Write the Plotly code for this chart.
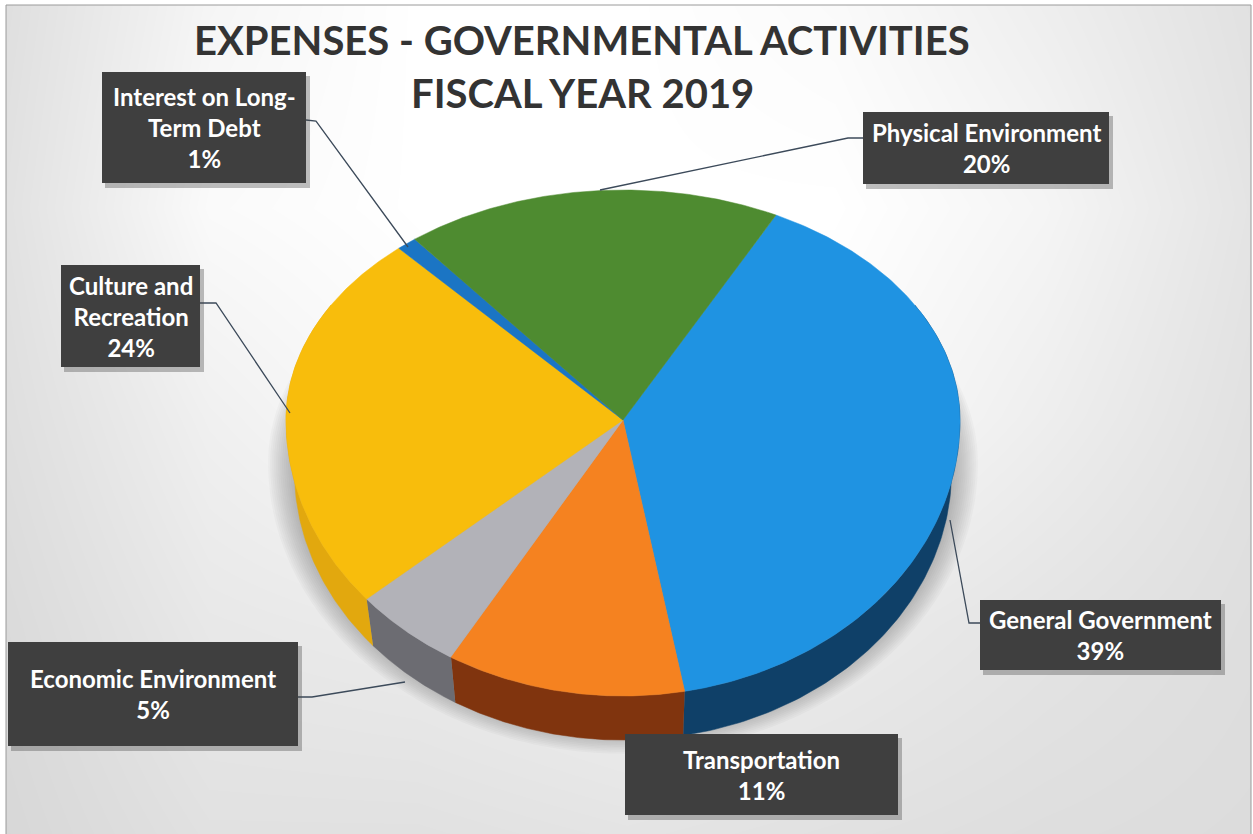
import numpy as np
import plotly.graph_objects as go

# --- data ---
categories = ["General Government", "Transportation", "Economic Environment",
              "Culture and Recreation", "Interest on Long-Term Debt", "Physical Environment"]
values = [39, 11, 5, 24, 1, 20]
top_colors = ["#1f93e2", "#f58220", "#b2b2b8", "#f8bd0c", "#1b75c4", "#4e8b30"]
side_colors = ["#0f4068", "#80340e", "#6c6c72", "#e2a80e", "#0f4068", "#2f5a1c"]
label_text = ["General Government<br>39%", "Transportation<br>11%",
              "Economic Environment<br>5%", "Culture and<br>Recreation<br>24%",
              "Interest on Long-<br>Term Debt<br>1%", "Physical Environment<br>20%"]
label_boxes = [(980, 600, 1221, 670), (625, 734, 898, 815), (8, 642, 298, 746),
               (61, 265, 200, 367), (102, 72, 306, 183), (863, 112, 1109, 184)]
leaders = [[(950, 520), (969, 623), (980, 623)],
           None,
           [(298, 697), (312, 697), (405, 682)],
           [(200, 303), (216, 303), (290, 413)],
           [(306, 120), (316, 121), (408, 247)],
           [(863, 138), (848, 138), (600, 190)]]
title_lines = ["EXPENSES - GOVERNMENTAL ACTIVITIES", "FISCAL YEAR 2019"]

bg_x = [0, 209, 418, 627, 835, 1044, 1253]
bg_y = [0, 208, 417, 625, 834]
bg_gray = [[222, 245, 255, 255, 250, 238, 225],
           [225, 250, 255, 255, 255, 245, 228],
           [222, 240, 250, 255, 250, 238, 225],
           [218, 232, 235, 240, 235, 228, 222],
           [215, 225, 225, 228, 225, 222, 220]]

# --- geometry of the tilted pie ---
CX, CY = 623, 420
RX, RY_TOP, RY_BOTTOM = 337, 230, 276
DEPTH, BOTTOM_SCALE = 51, 0.975
START = 27.0
PERSPECTIVE = 7.0


def rim(theta, scale=1.0, dy=0.0):
    t = np.radians(theta)
    c = np.cos(t)
    ry = np.where(c > 0, RY_TOP, RY_BOTTOM)
    return CX + scale * RX * np.sin(t), CY + dy - scale * ry * c


def project(angle):
    """Angle on the disc to angle on the picture: the 3D view skews the slices."""
    u = ((angle - START) / 360.0) ** 2.5
    return angle + PERSPECTIVE * np.sin(np.pi * u)


edges = project(START + np.concatenate([[0], np.cumsum(values)]) * 360.0 / sum(values))

fig = go.Figure()
fig.add_trace(go.Heatmap(x=bg_x, y=bg_y, z=bg_gray, zsmooth="best", zmin=0, zmax=255,
                         colorscale=[[0, "#000000"], [1, "#ffffff"]], showscale=False,
                         hoverinfo="skip"))

# soft shadow under the disc
full = np.linspace(0, 360, 361)
for k in range(14):
    sx, sy = rim(full, 0.975 + 0.006 * k, DEPTH - 8)
    fig.add_trace(go.Scatter(x=sx, y=sy, fill="toself", mode="none",
                             fillcolor="rgba(90,90,100,0.04)", hoverinfo="skip"))

# side walls (front half only)
for i, name in enumerate(categories):
    a, b = max(edges[i], 60), min(edges[i + 1], 300)
    if b <= a:
        continue
    th = np.linspace(a, b, 120)
    x1, y1 = rim(th)
    x2, y2 = rim(th, BOTTOM_SCALE, DEPTH)
    fig.add_trace(go.Scatter(x=np.r_[x1, x2[::-1]], y=np.r_[y1, y2[::-1]], fill="toself",
                             mode="lines", line=dict(color=side_colors[i], width=0.5),
                             fillcolor=side_colors[i], hoverinfo="skip"))

# top faces
for i, name in enumerate(categories):
    th = np.linspace(edges[i], edges[i + 1], 200)
    x1, y1 = rim(th)
    fig.add_trace(go.Scatter(x=np.r_[CX, x1, CX], y=np.r_[CY, y1, CY], fill="toself",
                             mode="lines", line=dict(color=top_colors[i], width=0.5),
                             fillcolor=top_colors[i], name=name,
                             hovertemplate=f"{name}: {values[i]}%<extra></extra>"))

shapes = []
# white strips and thin frame of the scan
for x0, y0, x1, y1 in [(0, 0, 6, 834), (0, 0, 1253, 5), (1251, 0, 1253, 834)]:
    shapes.append(dict(type="rect", x0=x0, y0=y0, x1=x1, y1=y1,
                       fillcolor="#ffffff", line_width=0, layer="above"))
shapes.append(dict(type="path", path="M6,834 L6,5 L1251,5 L1251,834",
                   line=dict(color="#9a9a9a", width=1), layer="above"))

for pts in leaders:
    if pts:
        path = "M" + " L".join(f"{x},{y}" for x, y in pts)
        shapes.append(dict(type="path", path=path, line=dict(color="#3c4a5a", width=1.3),
                           layer="above"))

annotations = []
for box, text in zip(label_boxes, label_text):
    x0, y0, x1, y1 = box
    shapes.append(dict(type="rect", x0=x0 + 3, y0=y0 + 4, x1=x1 + 4, y1=y1 + 5,
                       fillcolor="rgba(70,70,70,0.35)", line_width=0, layer="above"))
    shapes.append(dict(type="rect", x0=x0, y0=y0, x1=x1, y1=y1,
                       fillcolor="#3f3f3f", line_width=0, layer="above"))
    annotations.append(dict(x=(x0 + x1) / 2, y=(y0 + y1) / 2, text=f"<b>{text}</b>",
                            showarrow=False, align="center", xanchor="center", yanchor="middle",
                            font=dict(family="Lato", size=24, color="#ffffff")))

for text, y in zip(title_lines, [40, 93]):
    annotations.append(dict(x=582, y=y, text=f"<b>{text}</b>", showarrow=False,
                            xanchor="center", yanchor="middle",
                            font=dict(family="Lato", size=40, color="#333333")))

fig.update_layout(width=1253, height=834, margin=dict(l=0, r=0, t=0, b=0),
                  paper_bgcolor="#ffffff", plot_bgcolor="#ffffff", showlegend=False,
                  xaxis=dict(range=[0, 1253], visible=False, fixedrange=True),
                  yaxis=dict(range=[834, 0], visible=False, fixedrange=True),
                  shapes=shapes, annotations=annotations)
fig.write_html("out.html", config={"displayModeBar": False},
               post_script="document.body.style.margin='0';")
